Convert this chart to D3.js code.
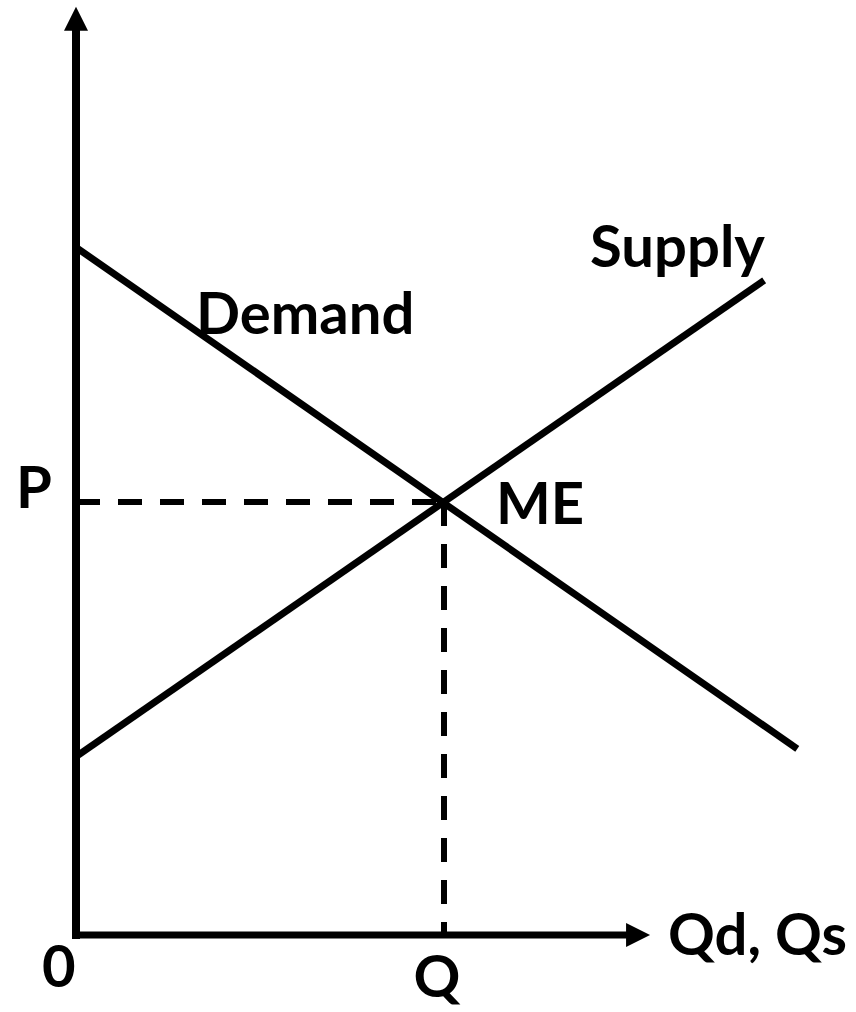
<!DOCTYPE html>
<html>
<head>
<meta charset="utf-8">
<script src="https://cdn.jsdelivr.net/npm/d3@7"></script>
<style>
  html, body { margin: 0; padding: 0; background: #fff; }
  svg { display: block; }
  text { font-family: Lato, "Open Sans", sans-serif; font-weight: bold; fill: #000; }
</style>
</head>
<body>
<svg id="chart" width="856" height="1012"></svg>
<script>
// ---- data (abstract units) ----
const demandPoints = [[0, 7.94], [9.8, 2.15]];
const supplyPoints = [[0, 2.06], [9.35, 7.56]];
const equilibrium = [5, 5];
const axisEnds = { q: 7.8, p: 10.72 };
const curveLabels = ["Supply", "Demand"];
const pointLabels = ["ME"];
const tickLabels = ["0", "P", "Q"];
const xAxisLabel = "Qd, Qs";

const svg = d3.select("#chart");
const x = d3.scaleLinear().domain([0, 10]).range([76, 812]);
const y = d3.scaleLinear().domain([0, 10]).range([935, 69]);
const line = d3.line().x(d => x(d[0])).y(d => y(d[1]));

// dashed guide lines
svg.append("path")
  .attr("d", line([[0, equilibrium[1]], equilibrium]))
  .attr("stroke", "#000").attr("stroke-width", 6).attr("fill", "none")
  .attr("stroke-dasharray", "24,18");
svg.append("path")
  .attr("d", line([equilibrium, [equilibrium[0], 0]]))
  .attr("stroke", "#000").attr("stroke-width", 6).attr("fill", "none")
  .attr("stroke-dasharray", "24,18");

// curves
svg.append("path").attr("d", line(demandPoints))
  .attr("stroke", "#000").attr("stroke-width", 7).attr("fill", "none");
svg.append("path").attr("d", line(supplyPoints))
  .attr("stroke", "#000").attr("stroke-width", 7).attr("fill", "none");

// axes
const arrowLen = 24, arrowHalf = 12;
const yTop = y(axisEnds.p), xRight = x(axisEnds.q);
svg.append("line")
  .attr("x1", x(0)).attr("y1", y(0) + 4).attr("x2", x(0)).attr("y2", yTop + arrowLen - 2)
  .attr("stroke", "#000").attr("stroke-width", 8);
svg.append("path")
  .attr("d", `M${x(0)},${yTop} L${x(0) + arrowHalf},${yTop + arrowLen} L${x(0) - arrowHalf},${yTop + arrowLen} Z`)
  .attr("fill", "#000");
svg.append("line")
  .attr("x1", x(0)).attr("y1", y(0)).attr("x2", xRight - arrowLen + 2).attr("y2", y(0))
  .attr("stroke", "#000").attr("stroke-width", 7);
svg.append("path")
  .attr("d", `M${xRight},${y(0)} L${xRight - arrowLen},${y(0) - arrowHalf} L${xRight - arrowLen},${y(0) + arrowHalf} Z`)
  .attr("fill", "#000");

// labels
const fs = 58;
svg.append("text").attr("x", 590).attr("y", 267).attr("font-size", fs).text(curveLabels[0]);
svg.append("text").attr("x", 196).attr("y", 334).attr("font-size", fs).text(curveLabels[1]);
svg.append("text").attr("x", 496).attr("y", 524).attr("font-size", fs).text(pointLabels[0]);
svg.append("text").attr("x", 16).attr("y", 508).attr("font-size", fs).text(tickLabels[1]);
svg.append("text").attr("x", 42).attr("y", 987).attr("font-size", fs).text(tickLabels[0]);
svg.append("text").attr("x", 437).attr("y", 997).attr("font-size", fs).attr("text-anchor", "middle").text(tickLabels[2]);
svg.append("text").attr("x", 668).attr("y", 955).attr("font-size", fs).text(xAxisLabel);
</script>
</body>
</html>
